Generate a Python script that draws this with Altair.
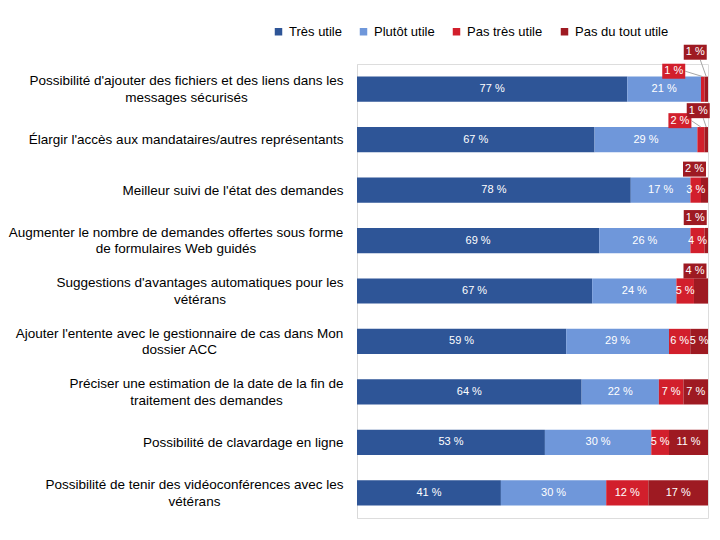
import json
import altair as alt
import pandas as pd

# ---------------- data ----------------
categories = [
    ["Possibilité d'ajouter des fichiers et des liens dans les", "messages sécurisés"],
    ["Élargir l'accès aux mandataires/autres représentants"],
    ["Meilleur suivi de l'état des demandes"],
    ["Augmenter le nombre de demandes offertes sous forme", "de formulaires Web guidés"],
    ["Suggestions d'avantages automatiques pour les", "vétérans"],
    ["Ajouter l'entente avec le gestionnaire de cas dans Mon", "dossier ACC"],
    ["Préciser une estimation de la date de la fin de", "traitement des demandes"],
    ["Possibilité de clavardage en ligne"],
    ["Possibilité de tenir des vidéoconférences avec les", "vétérans"],
]
responses = ["Très utile", "Plutôt utile", "Pas très utile", "Pas du tout utile"]
tres_utile = [77, 67, 78, 69, 67, 59, 64, 53, 41]
plutot_utile = [21, 29, 17, 26, 24, 29, 22, 30, 30]
pas_tres_utile = [1, 2, 3, 4, 5, 6, 7, 5, 12]
pas_du_tout_utile = [1, 1, 2, 1, 4, 5, 7, 11, 17]

# ---------------- style ----------------
colors = ["#2E5597", "#6F97DA", "#D21F2C", "#9E1A22"]
FONT = "Liberation Sans"
W, H = 351, 454
PPX = W / 100.0          # px per percent
PPR = H / 9.0            # px per row
HALF_BAR = 0.25          # half bar thickness in rows
LINE_H = 16.5
LABEL_PAD = 14
# half width (px) of the first line of two-line labels, used to centre the block
label_half_width = {0: 157, 3: 167.5, 4: 143.5, 5: 164, 6: 137, 8: 149}
# callouts placed above the bar: (row, response index, dx px, dy px)
callouts = [
    (0, 2, -29, -18), (0, 3, -11, -37),
    (1, 2, -21, -19), (1, 3, -8, -29),
    (2, 3, -10, -21), (3, 3, -11, -23), (4, 3, -6, -20),
]
leader_rows = {0, 1}
BOX_HW, BOX_HH = 11.5, 7.5

# ---------------- tables ----------------
series = [tres_utile, plutot_utile, pas_tres_utile, pas_du_tout_utile]
rows = []
for r in range(len(categories)):
    vals = [s[r] for s in series]
    tot = float(sum(vals))
    cum = 0.0
    for k, v in enumerate(vals):
        x0 = cum / tot * 100
        cum += v
        x1 = cum / tot * 100
        rows.append(dict(row=r, resp=responses[k], k=k, value=v, x0=x0, x1=x1,
                         xm=(x0 + x1) / 2, y0=r - HALF_BAR, y1=r + HALF_BAR,
                         label=f"{v} %"))
seg = pd.DataFrame(rows)

call_keys = {(c[0], c[1]) for c in callouts}
inside = seg[[(r, k) not in call_keys for r, k in zip(seg.row, seg.k)]]

crows, lrows = [], []
for r, k, dx, dy in callouts:
    s = seg[(seg.row == r) & (seg.k == k)].iloc[0]
    cx = s.xm + dx / PPX
    cy = r + dy / PPR
    crows.append(dict(row=r, resp=s.resp, label=s.label, cx=cx, cy=cy,
                      bx0=cx - BOX_HW / PPX, bx1=cx + BOX_HW / PPX,
                      by0=cy - BOX_HH / PPR, by1=cy + BOX_HH / PPR))
    if r in leader_rows:
        if k == 2:
            sx, sy = cx + BOX_HW / PPX, cy
        else:
            sx, sy = cx + 5 / PPX, cy + BOX_HH / PPR
        lrows.append(dict(lx0=sx, ly0=sy, lx1=s.xm, ly1=s.y0))
call = pd.DataFrame(crows)
lead = pd.DataFrame(lrows)

two_line_rows = [i for i, l in enumerate(categories) if len(l) > 1]
two_test = "indexof(%s, datum.value) >= 0" % json.dumps(two_line_rows)

# ---------------- scales / encodings ----------------
xs = alt.Scale(domain=[0, 100], nice=False, zero=False)
ys = alt.Scale(domain=[-0.5, 8.5], nice=False, zero=False, reverse=True)
legend = alt.Legend(title=None, orient="none", direction="horizontal",
                    legendX=-85, legendY=-39,
                    symbolType="square", symbolSize=56, symbolStrokeWidth=0,
                    labelFont=FONT, labelFontSize=13,
                    labelColor="#000000", labelOffset=4, columnPadding=15)
color_enc = alt.Color("resp:N", scale=alt.Scale(domain=responses, range=colors),
                      sort=responses, legend=legend)

label_expr = "%s[datum.value]" % json.dumps(categories, ensure_ascii=False)
pad_conditions = [{"test": "datum.value == %d" % r, "value": LABEL_PAD + hw}
                  for r, hw in label_half_width.items()]
y_axis = alt.Axis(title=None, values=list(range(9)), labelExpr=label_expr,
                  ticks=False, grid=False, domainColor="#d9d9d9",
                  labelFont=FONT, labelFontSize=13.5, labelColor="#000000",
                  labelLineHeight=LINE_H, labelLimit=400,
                  labelPadding={"condition": pad_conditions, "value": LABEL_PAD},
                  labelAlign={"condition": {"test": two_test, "value": "center"},
                              "value": "right"},
                  labelOffset={"condition": {"test": two_test, "value": -LINE_H / 2},
                               "value": 0},
                  labelOverlap=False, labelBound=False, labelFlush=False)


def Y(field):
    return alt.Y(field, scale=ys, axis=y_axis)


def X(field):
    return alt.X(field, scale=xs, axis=None)


bars = alt.Chart(seg).mark_rect().encode(
    x=X("x0:Q"), x2="x1:Q", y=Y("y0:Q"), y2="y1:Q", color=color_enc,
)

in_text = alt.Chart(inside).mark_text(color="white", font=FONT, fontSize=11,
                                      baseline="middle", align="center").encode(
    x=X("xm:Q"), y=Y("row:Q"), text="label:N",
)

leaders = alt.Chart(lead).mark_rule(color="#a6a6a6", strokeWidth=1).encode(
    x=X("lx0:Q"), x2="lx1:Q", y=Y("ly0:Q"), y2="ly1:Q",
)

boxes = alt.Chart(call).mark_rect().encode(
    x=X("bx0:Q"), x2="bx1:Q", y=Y("by0:Q"), y2="by1:Q", color=color_enc,
)

box_text = alt.Chart(call).mark_text(color="white", font=FONT, fontSize=11,
                                     baseline="middle", align="center").encode(
    x=X("cx:Q"), y=Y("cy:Q"), text="label:N",
)

chart = alt.layer(bars, in_text, leaders, boxes, box_text).properties(
    width=W, height=H,
    autosize=alt.AutoSizeParams(type="none"),
    padding={"left": 349, "top": 56, "right": 4, "bottom": 10},
).configure_view(strokeWidth=0).configure(background="white")

chart.save("out.html", embed_options={"renderer": "svg", "actions": False})
